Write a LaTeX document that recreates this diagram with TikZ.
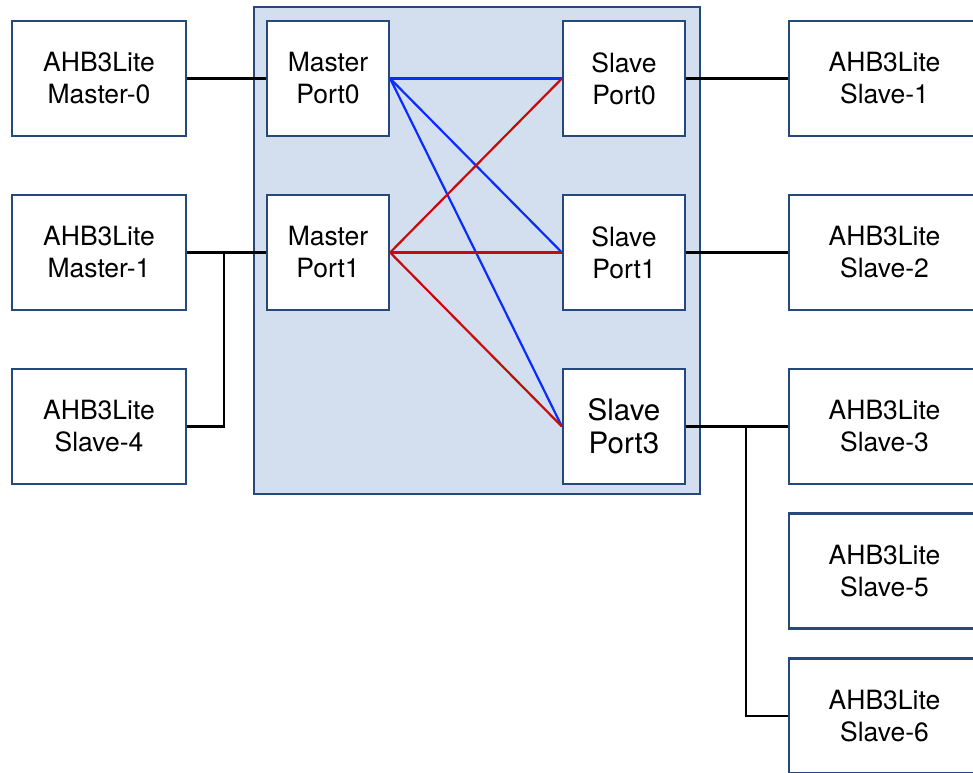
\documentclass[tikz,border=0pt]{standalone}
\usepackage{fontspec}
\setmainfont{TeX Gyre Heros}
\definecolor{boxline}{HTML}{24497A}
\definecolor{boxfill}{HTML}{D3DFEE}
\definecolor{lnblue}{HTML}{0A2CFF}
\definecolor{lnred}{HTML}{C80A0A}
\begin{document}
\begin{tikzpicture}[x=1pt,y=-1pt,
  blk/.style={draw=boxline,line width=2.2pt,fill=white,minimum width=174pt,minimum height=115pt,
    align=center,inner sep=0pt,font=\fontsize{26.5}{32}\selectfont},
  port/.style={blk,minimum width=122pt},
  wire/.style={line width=2.2pt,black},
  bw/.style={line width=2.2pt,lnblue},
  rw/.style={line width=2.2pt,lnred}]
\useasboundingbox (0,0) rectangle (973,772);
\clip (0,0) rectangle (973,772);
\node[draw=boxline,line width=2.2pt,fill=boxfill,minimum width=446pt,minimum height=487pt,inner sep=0pt] (xbar) at (477,250.5) {};
% left blocks
\node[blk] (m0) at (99,78.5) {AHB3Lite\\Master-0};
\node[blk] (m1) at (99,252.5) {AHB3Lite\\Master-1};
\node[blk] (s4) at (99,426.5) {AHB3Lite\\Slave-4};
% master ports
\node[port] (mp0) at (328,78.5) {Master\\Port0};
\node[port] (mp1) at (328,252.5) {Master\\Port1};
% slave ports
\node[port] (sp0) at (624,78.5) {Slave\\Port0};
\node[port] (sp1) at (624,252.5) {Slave\\Port1};
\node[port,font=\fontsize{29.5}{33}\selectfont] (sp3) at (624,426.5) {Slave\\Port3};
% right blocks
\node[blk,minimum width=191pt] (s1) at (884.5,78.5) {AHB3Lite\\Slave-1};
\node[blk,minimum width=191pt] (s2) at (884.5,252.5) {AHB3Lite\\Slave-2};
\node[blk,minimum width=191pt] (s3) at (884.5,426.5) {AHB3Lite\\Slave-3};
\node[blk,minimum width=191pt] (s5) at (884.5,571) {AHB3Lite\\Slave-5};
\node[blk,minimum width=191pt] (s6) at (884.5,716) {AHB3Lite\\Slave-6};
% black wires
\draw[wire] (m0.east) -- (mp0.west);
\draw[wire] (m1.east) -- (mp1.west);
\coordinate (j1) at (224,252.5);
\draw[wire] (j1) |- (s4.east);
\draw[wire] (sp0.east) -- (s1.west);
\draw[wire] (sp1.east) -- (s2.west);
\draw[wire] (sp3.east) -- (s3.west);
\coordinate (j3) at (746,426.5);
\draw[wire] (j3) |- (s6.west);
% crossbar connections
\draw[bw] (mp0.east) -- (sp0.west);
\draw[bw] (mp0.east) -- (sp1.west);
\draw[bw] (mp0.east) -- (sp3.west);
\draw[rw] (mp1.east) -- (sp0.west);
\draw[rw] (mp1.east) -- (sp1.west);
\draw[rw] (mp1.east) -- (sp3.west);
\end{tikzpicture}
\end{document}
